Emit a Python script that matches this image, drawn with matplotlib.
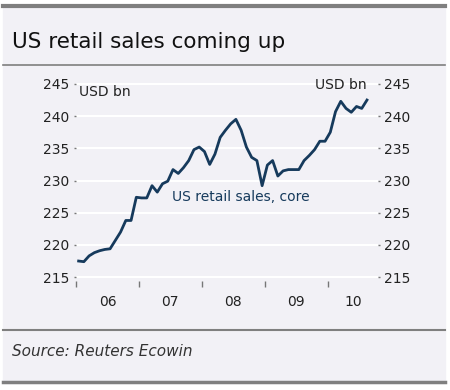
import numpy as np
import matplotlib.pyplot as plt
from matplotlib.lines import Line2D

# monthly core retail sales, Jan 2006 .. Aug 2010 (USD bn)
years = np.repeat(np.arange(2006, 2011), 12)[:56]
months = np.tile(np.arange(1, 13), 5)[:56]
sales = [217.5, 217.4, 218.3, 218.8, 219.1, 219.3, 219.4, 220.7, 222.0, 223.8,
         223.8, 227.4, 227.3, 227.3, 229.2, 228.2, 229.5, 229.9, 231.7, 231.1,
         232.0, 233.1, 234.8, 235.2, 234.5, 232.5, 234.1, 236.7, 237.8, 238.8,
         239.5, 237.8, 235.2, 233.6, 233.1, 229.2, 232.4, 233.1, 230.7, 231.5,
         231.7, 231.7, 231.7, 233.1, 233.9, 234.8, 236.1, 236.1, 237.5, 240.7,
         242.3, 241.2, 240.6, 241.5, 241.2, 242.5]
year_labels = ['06', '07', '08', '09', '10']
yticks = [215, 220, 225, 230, 235, 240, 245]

bg = '#f2f1f6'
navy = '#163a5c'
x = years + (months - 0.5) / 12.0

fig = plt.figure(figsize=(4.5, 3.9), dpi=100)
fig.patch.set_facecolor('white')

# panel background and rules
fig.patches.append(plt.Rectangle((3/450, 1 - 383/390), 442/450, 378/390,
                                 transform=fig.transFigure, color=bg, zorder=-5))
for yy, lw in [(5.5, 3), (65, 1.2), (330, 1.5), (381.5, 2.5)]:
    fig.add_artist(Line2D([3/450, 445/450], [1 - yy/390, 1 - yy/390],
                          color='#7f7f7f', lw=lw))

fig.text(12/450, 1 - 42/390, 'US retail sales coming up', fontsize=15.5,
         color='#111111', va='center', ha='left')
fig.text(12/450, 1 - 352/390, 'Source: Reuters Ecowin', fontsize=11,
         style='italic', color='#333333', va='center', ha='left')

ax = fig.add_axes([76/450, 1 - 281/390, 302/450, 199/390])
ax.set_facecolor(bg)
ax.plot(x, sales, color=navy, lw=2, zorder=3)
ax.set_xlim(2006, 2010.8)
ax.set_ylim(214.4, 245.3)
ax.set_yticks(yticks)
for v in yticks:
    ax.axhline(v, color='white', lw=1.5, zorder=1)
for s in ax.spines.values():
    s.set_visible(False)

ax.tick_params(axis='y', which='both', left=True, right=True, labelleft=True,
               labelright=True, length=1.5, width=1, color='#777777',
               labelsize=10, labelcolor='#222222', pad=3)

ax.set_xticks([2006, 2007, 2008, 2009, 2010])
ax.set_xticklabels([])
ax.set_xticks([2006.5, 2007.5, 2008.5, 2009.5, 2010.4], minor=True)
ax.set_xticklabels(year_labels, minor=True)
ax.tick_params(axis='x', which='major', length=4, width=1, color='#777777',
               direction='out')
ax.tick_params(axis='x', which='minor', length=0, labelsize=10,
               labelcolor='#222222', pad=10)

ax.text(2006.04, 243.8, 'USD bn', fontsize=10, color='#222222',
        ha='left', va='center')
ax.text(2010.62, 244.8, 'USD bn', fontsize=10, color='#222222',
        ha='right', va='center')
ax.text(2007.52, 227.4, 'US retail sales, core', fontsize=10, color=navy,
        ha='left', va='center')

fig.savefig('out.png', dpi=100, facecolor=fig.get_facecolor())
